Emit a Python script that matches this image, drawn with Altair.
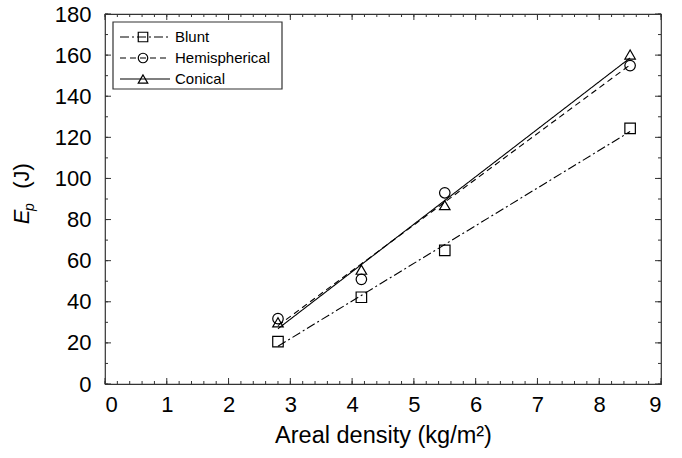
import altair as alt
import pandas as pd

# ---- data ----
series = ["Blunt", "Hemispherical", "Conical"]
areal_density = [2.8, 4.15, 5.5, 8.5]
blunt = [20.6, 42.2, 65.0, 124.4]
hemispherical = [31.8, 50.9, 93.0, 154.9]
conical = [30.0, 55.6, 87.0, 160.3]

shapes = ["square", "circle", "triangle-up"]
dashes = [[9, 3, 2, 3], [6, 4], [1, 0]]

x_major = list(range(0, 10))
y_major = list(range(0, 181, 20))
x_minor = [i / 5 for i in range(0, 46)]
y_minor = list(range(0, 181, 10))

W, H = 556, 370
FONT = "Liberation Sans"
INK = "#000000"
FRAME = "#333333"

rows = []
for name, vals in zip(series, [blunt, hemispherical, conical]):
    for xv, yv in zip(areal_density, vals):
        rows.append({"series": name, "x": xv, "y": yv})
df = pd.DataFrame(rows)

xs = alt.Scale(domain=[0, 9], nice=False, zero=False)
ys = alt.Scale(domain=[0, 180], nice=False, zero=False)
shape_scale = alt.Scale(domain=series, range=shapes)
dash_scale = alt.Scale(domain=series, range=dashes)

x_enc = alt.X("x:Q", scale=xs, title="Areal density (kg/m²)",
              axis=alt.Axis(values=x_major, ticks=False, domain=False, grid=False,
                            labelFontSize=22, labelPadding=10, titleFontSize=23.5,
                            titleFontWeight="normal", titlePadding=8, format="d"))
y_enc = alt.Y("y:Q", scale=ys, title=None,
              axis=alt.Axis(values=y_major, ticks=False, domain=False, grid=False,
                            labelFontSize=22, labelPadding=14, format="d"))

base = alt.Chart(df)

fit = base.transform_regression("x", "y", groupby=["series"], method="linear").mark_line(
    color=INK, strokeWidth=1.1
).encode(
    x=x_enc, y=y_enc,
    strokeDash=alt.StrokeDash("series:N", scale=dash_scale, legend=None),
    detail="series:N",
)

pts = base.mark_point(filled=False, color=INK, size=110, strokeWidth=1.2, opacity=1).encode(
    x=x_enc, y=y_enc,
    shape=alt.Shape("series:N", scale=shape_scale, legend=None),
)

# ---- inward ticks on all four sides ----
def xticks(vals, length):
    d = pd.DataFrame({"x": vals})
    c = alt.Chart(d)
    bottom = c.mark_rule(color=FRAME, strokeWidth=1).encode(
        x=alt.X("x:Q", scale=xs), y=alt.value(H), y2=alt.value(H - length))
    top = c.mark_rule(color=FRAME, strokeWidth=1).encode(
        x=alt.X("x:Q", scale=xs), y=alt.value(0), y2=alt.value(length))
    return [bottom, top]

def yticks(vals, length):
    d = pd.DataFrame({"y": vals})
    c = alt.Chart(d)
    left = c.mark_rule(color=FRAME, strokeWidth=1).encode(
        y=alt.Y("y:Q", scale=ys), x=alt.value(0), x2=alt.value(length))
    right = c.mark_rule(color=FRAME, strokeWidth=1).encode(
        y=alt.Y("y:Q", scale=ys), x=alt.value(W), x2=alt.value(W - length))
    return [left, right]

tick_layers = xticks(x_minor, 3) + xticks(x_major, 6) + yticks(y_minor, 3) + yticks(y_major, 6)

# ---- legend box ----
one = pd.DataFrame({"k": [0]})
box = alt.Chart(one).mark_rect(fill="white", stroke=FRAME, strokeWidth=1.2).encode(
    x=alt.value(8), x2=alt.value(177), y=alt.value(8), y2=alt.value(75))

legend_y = [23, 44, 65]
legend_layers = [box]
for name, shp, dsh, ly in zip(series, shapes, dashes, legend_y):
    d = pd.DataFrame({"label": [name]})
    c = alt.Chart(d)
    legend_layers.append(c.mark_rule(color=INK, strokeWidth=1.1, strokeDash=dsh).encode(
        x=alt.value(15), x2=alt.value(65), y=alt.value(ly)))
    legend_layers.append(c.mark_point(filled=False, color=INK, size=90, strokeWidth=1.2,
                                      shape=shp, opacity=1).encode(
        x=alt.value(38), y=alt.value(ly)))
    legend_layers.append(c.mark_text(align="left", baseline="middle", fontSize=15,
                                     color=INK, font=FONT).encode(
        x=alt.value(70), y=alt.value(ly), text="label:N"))

# ---- y-axis title E_p (J) ----
t_e = alt.Chart(pd.DataFrame({"t": ["E"]})).mark_text(
    angle=270, fontSize=22, fontStyle="italic", font=FONT, color=INK,
    align="center", baseline="middle").encode(
    x=alt.value(-83), y=alt.value(203), text="t:N")
t_p = alt.Chart(pd.DataFrame({"t": ["p"]})).mark_text(
    angle=270, fontSize=14, fontStyle="italic", font=FONT, color=INK,
    align="center", baseline="middle").encode(
    x=alt.value(-75), y=alt.value(193), text="t:N")
t_j = alt.Chart(pd.DataFrame({"t": ["(J)"]})).mark_text(
    angle=270, fontSize=22, font=FONT, color=INK,
    align="center", baseline="middle").encode(
    x=alt.value(-83), y=alt.value(162), text="t:N")

chart = alt.layer(
    *tick_layers, fit, pts, *legend_layers, t_e, t_p, t_j
).properties(
    width=W, height=H,
    autosize=alt.AutoSizeParams(type="none"),
    padding={"left": 105, "top": 14, "right": 21, "bottom": 74},
).configure(
    font=FONT,
).configure_view(
    stroke=FRAME, strokeWidth=1.2,
).configure_axis(
    labelColor=INK, titleColor=INK, labelFont=FONT, titleFont=FONT,
)

chart.save("out.html", embed_options={"renderer": "svg", "actions": False})
